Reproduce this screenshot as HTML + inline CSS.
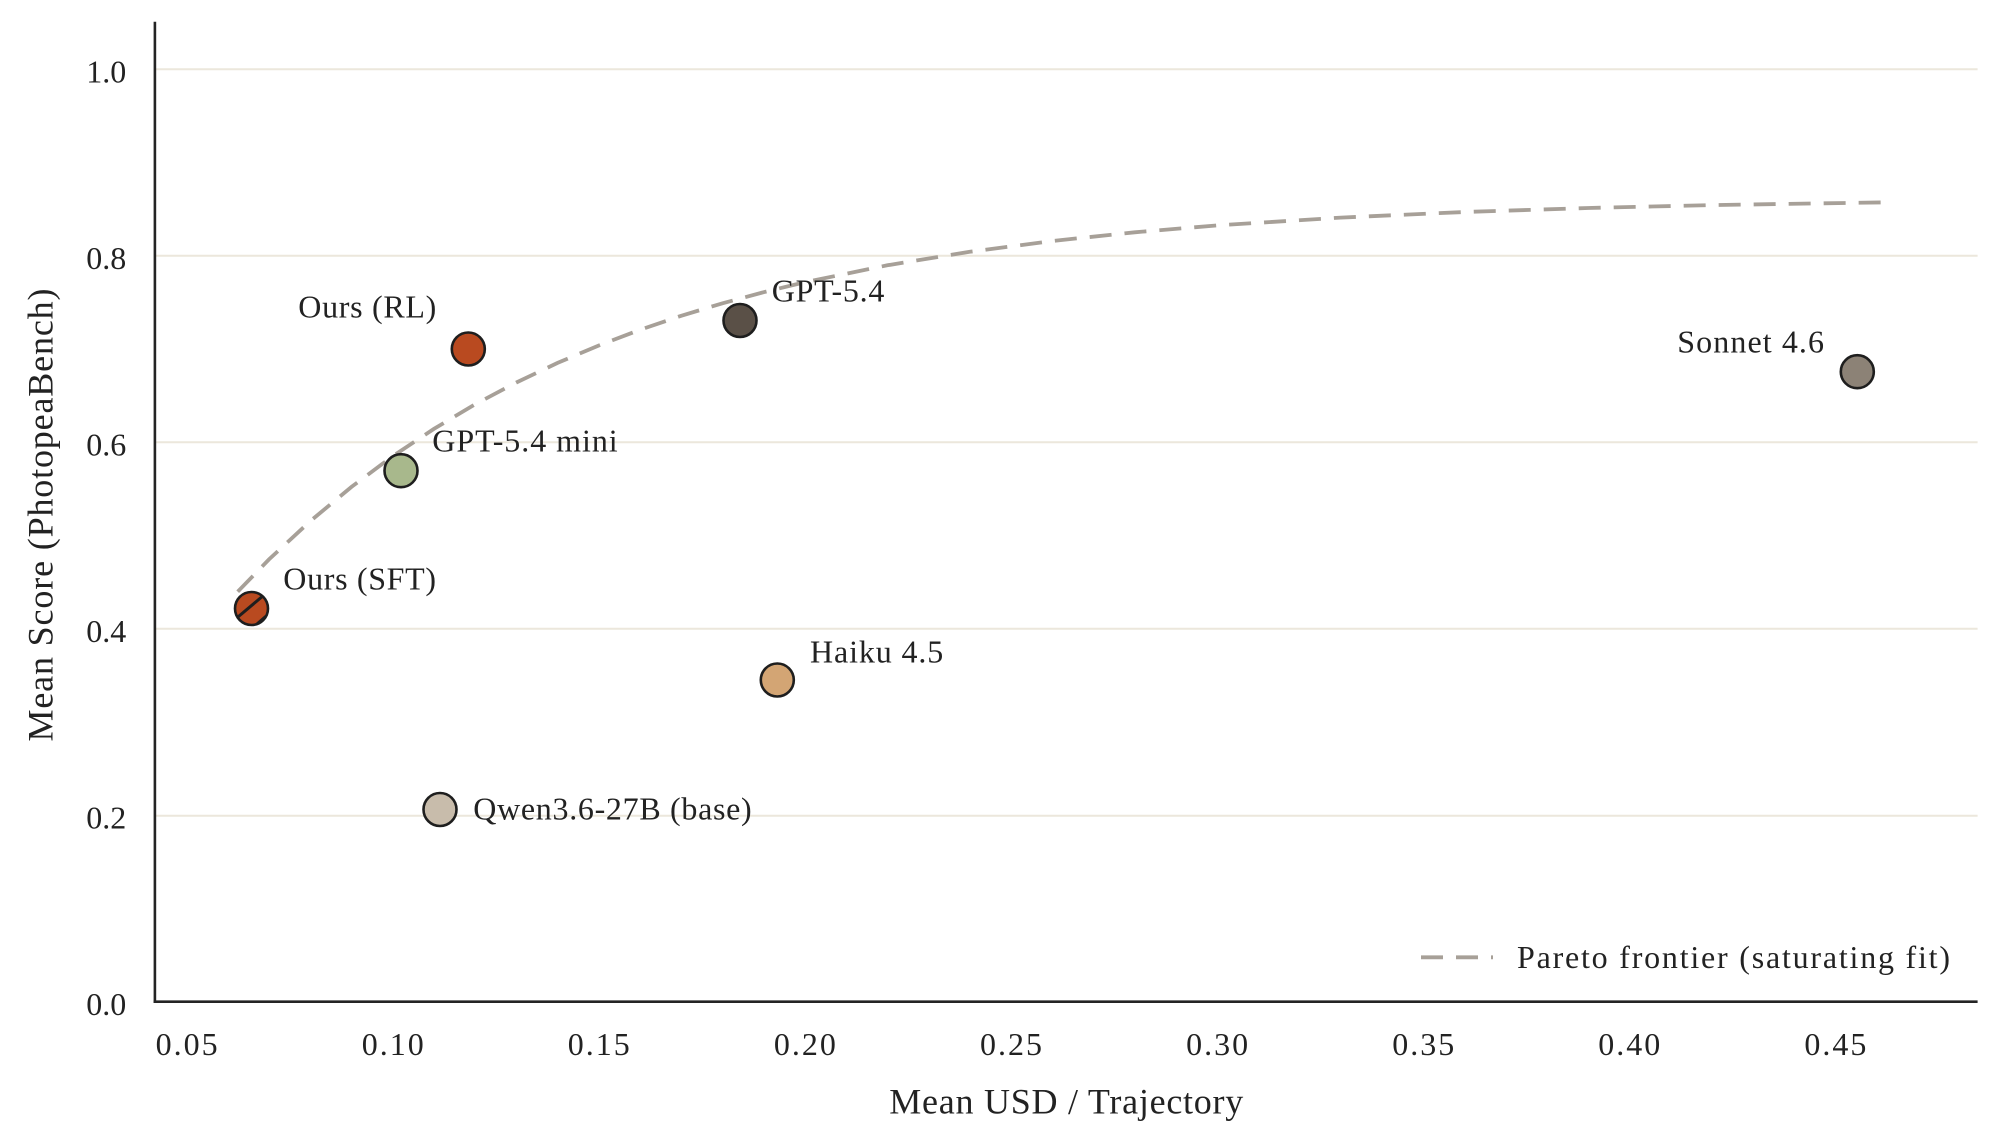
<!DOCTYPE html>
<html>
<head>
<meta charset="utf-8">
<style>
  html, body { margin: 0; padding: 0; background: #ffffff; }
  body { width: 1999px; height: 1143px; overflow: hidden; }
  svg { display: block; }
  text { font-family: "Liberation Serif", "DejaVu Serif", serif; fill: #222222; }
</style>
</head>
<body>
<svg width="1999" height="1143" viewBox="0 0 1999 1143" xmlns="http://www.w3.org/2000/svg">
  <rect x="0" y="0" width="1999" height="1143" fill="#ffffff"/>

  <!-- gridlines -->
  <g stroke="#ece7dc" stroke-width="2">
    <line x1="155" y1="69.2" x2="1977.6" y2="69.2"/>
    <line x1="155" y1="255.7" x2="1977.6" y2="255.7"/>
    <line x1="155" y1="442.2" x2="1977.6" y2="442.2"/>
    <line x1="155" y1="628.7" x2="1977.6" y2="628.7"/>
    <line x1="155" y1="815.7" x2="1977.6" y2="815.7"/>
  </g>

  <!-- axes -->
  <line x1="154.9" y1="21.7" x2="154.9" y2="1003" stroke="#242424" stroke-width="2.6"/>
  <line x1="153.6" y1="1001.7" x2="1977.6" y2="1001.7" stroke="#242424" stroke-width="2.6"/>

  <!-- y tick labels -->
  <g font-size="32" text-anchor="end">
    <text x="126.3" y="82.5">1.0</text>
    <text x="126.3" y="269">0.8</text>
    <text x="126.3" y="455.5">0.6</text>
    <text x="126.3" y="642">0.4</text>
    <text x="126.3" y="828.5">0.2</text>
    <text x="126.3" y="1015">0.0</text>
  </g>

  <!-- x tick labels -->
  <g font-size="32" text-anchor="middle">
    <text x="186.6" y="1055" textLength="62" lengthAdjust="spacing">0.05</text>
    <text x="392.7" y="1055" textLength="62" lengthAdjust="spacing">0.10</text>
    <text x="598.8" y="1055" textLength="62" lengthAdjust="spacing">0.15</text>
    <text x="804.9" y="1055" textLength="62" lengthAdjust="spacing">0.20</text>
    <text x="1011" y="1055" textLength="62" lengthAdjust="spacing">0.25</text>
    <text x="1217.1" y="1055" textLength="62" lengthAdjust="spacing">0.30</text>
    <text x="1423.2" y="1055" textLength="62" lengthAdjust="spacing">0.35</text>
    <text x="1629.3" y="1055" textLength="62" lengthAdjust="spacing">0.40</text>
    <text x="1835.4" y="1055" textLength="62" lengthAdjust="spacing">0.45</text>
  </g>

  <!-- axis labels -->
  <text x="889.3" y="1113.3" font-size="36" textLength="354" lengthAdjust="spacing">Mean USD / Trajectory</text>
  <text transform="translate(52.7,515) rotate(-90)" x="0" y="0" font-size="36" text-anchor="middle" textLength="453" lengthAdjust="spacing">Mean Score (PhotopeaBench)</text>

  <!-- Pareto frontier -->
  <polyline fill="none" stroke="#a7a098" stroke-width="3.8" stroke-dasharray="22 13"
    points="237.7,591.7 269.0,559.4 310.3,521.1 351.5,486.9 392.7,456.2 433.9,428.9 475.1,404.3 516.4,382.5 557.6,362.9 598.8,345.5 640.0,329.8 681.2,315.8 722.5,303.3 763.7,292.2 804.9,282.2 887.3,265.3 969.8,251.8 1052.2,241.0 1134.7,232.3 1217.1,225.4 1340.8,217.6 1464.4,212.0 1588.1,208.0 1711.7,205.1 1881.7,202.4"/>

  <!-- markers -->
  <defs>
    <clipPath id="sftclip"><circle cx="251.5" cy="608.5" r="16.5"/></clipPath>
  </defs>
  <g stroke="#1e1e1e" stroke-width="2.6">
    <circle cx="251.5" cy="608.5" r="16.5" fill="#b94a20"/>
    <circle cx="468.3" cy="349" r="16.5" fill="#b94a20"/>
    <circle cx="401" cy="470.7" r="16.5" fill="#a8b88c"/>
    <circle cx="440" cy="809.5" r="16.5" fill="#c8bcab"/>
    <circle cx="740" cy="320.5" r="16.5" fill="#5a5047"/>
    <circle cx="777.3" cy="680" r="16.5" fill="#d3a574"/>
    <circle cx="1857.3" cy="371.7" r="16.5" fill="#8c8276"/>
  </g>
  <g clip-path="url(#sftclip)" stroke="#1e1e1e" stroke-width="3">
    <line x1="232" y1="622" x2="270" y2="590"/>
    <line x1="250" y1="630" x2="272" y2="611"/>
  </g>

  <!-- point labels -->
  <g font-size="32">
    <text x="298.3" y="317.3" textLength="138" lengthAdjust="spacing">Ours (RL)</text>
    <text x="432.3" y="451.7" textLength="185.4" lengthAdjust="spacing">GPT-5.4 mini</text>
    <text x="283.3" y="589.7" textLength="152.7" lengthAdjust="spacing">Ours (SFT)</text>
    <text x="771.7" y="301.7" textLength="112.7" lengthAdjust="spacing">GPT-5.4</text>
    <text x="810" y="662.3" textLength="133.3" lengthAdjust="spacing">Haiku 4.5</text>
    <text x="1677.3" y="352.7" textLength="146.7" lengthAdjust="spacing">Sonnet 4.6</text>
    <text x="473.3" y="819.3" textLength="278.4" lengthAdjust="spacing">Qwen3.6-27B (base)</text>
  </g>

  <!-- legend -->
  <line x1="1421" y1="957.3" x2="1493" y2="957.3" stroke="#a7a098" stroke-width="3.8" stroke-dasharray="22 13"/>
  <text x="1517" y="968" font-size="32" textLength="433" lengthAdjust="spacing">Pareto frontier (saturating fit)</text>
</svg>
</body>
</html>
